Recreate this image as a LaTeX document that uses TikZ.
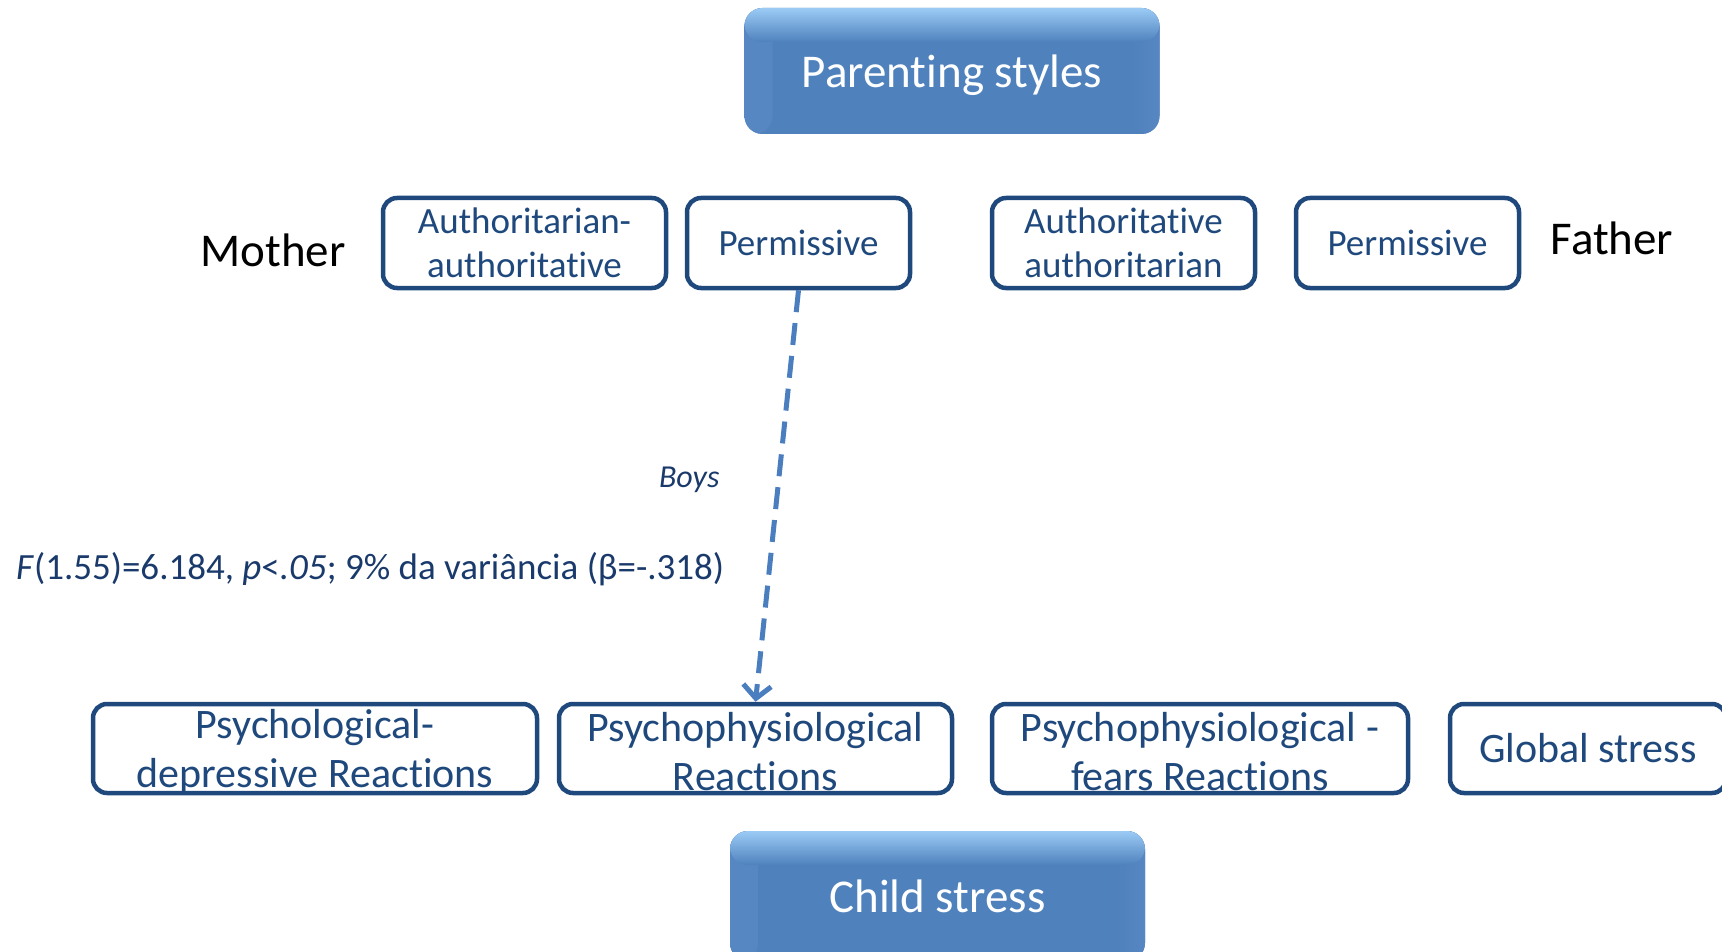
\documentclass[tikz,border=0pt]{standalone}
\usepackage{fontspec}
\setmainfont{Carlito}[Ligatures=NoCommon]
\usetikzlibrary{arrows.meta}

\definecolor{navy}{HTML}{1F497D}
\definecolor{accent}{HTML}{4F81BD}
\definecolor{accentlight}{HTML}{9BCBF5}
\definecolor{accentside}{HTML}{5787C3}
\definecolor{arrowblue}{HTML}{4A7EBF}
\definecolor{labelnavy}{HTML}{1A3A6B}

\begin{document}
\begin{tikzpicture}[x=1pt,y=-1pt,
  outline/.style={draw=navy, line width=4.5pt, rounded corners=14pt,
    fill=white, inner sep=0pt, minimum height=90pt},
  boxtext/.style={text=navy, align=center, inner sep=0pt,
    font=\fontsize{37}{44}\selectfont},
  bigtext/.style={text=navy, align=center, inner sep=0pt,
    font=\fontsize{42}{49}\selectfont},
  button/.style={fill=accent, rounded corners=18pt, inner sep=0pt,
    path picture={
      \shade[left color=accentside, right color=accent]
        (path picture bounding box.north west) rectangle
        ([xshift=28pt]path picture bounding box.south west);
      \shade[right color=accentside, left color=accent]
        (path picture bounding box.north east) rectangle
        ([xshift=-28pt]path picture bounding box.south east);
      \shade[top color=accentlight, bottom color=accent]
        (path picture bounding box.north west) rectangle
        ([yshift=-34pt]path picture bounding box.north east);
    }},
  buttontext/.style={text=white, inner sep=0pt,
    font=\fontsize{47}{54}\selectfont},
  side/.style={font=\fontsize{47}{52}\selectfont, text=black},
  stat/.style={text=labelnavy, font=\fontsize{37}{44}\selectfont},
  link/.style={draw=arrowblue, line width=5pt, dash pattern=on 22pt off 11pt,
    -{Straight Barb[length=13pt,width=28pt]}}
]
\useasboundingbox (0,0) rectangle (1722,952);

% top heading button
\node[button, minimum width=415pt, minimum height=126pt] (ps) at (952,71) {};
\node[buttontext, yshift=-4pt] (pst) at (ps) {Parenting styles};

% mother and father styles
\node[side] (mother) at (273,250) {Mother};
\node[outline, minimum width=283pt] (a1) at (524.5,243) {};
\node[boxtext] (a1t) at (a1) {Authoritarian-\\authoritative};
\node[outline, minimum width=223pt] (p1) at (798.5,243) {};
\node[boxtext] (p1t) at (p1) {Permissive};
\node[outline, minimum width=263pt] (a2) at (1123.5,243) {};
\node[boxtext] (a2t) at (a2) {Authoritative\\authoritarian};
\node[outline, minimum width=223pt] (p2) at (1407.5,243) {};
\node[boxtext] (p2t) at (p2) {Permissive};
\node[side] (father) at (1612,238) {Father};

% stress reactions
\node[outline, minimum width=444pt, minimum height=89pt] (b1) at (315,748.5) {};
\node[bigtext, yshift=-3pt] (b1t) at (b1) {Psychological-\\depressive Reactions};
\node[outline, minimum width=393pt, minimum height=89pt] (b2) at (755.5,748.5) {};
\node[bigtext, yshift=-3pt] (b2t) at (b2) {Psychophysiological\\Reactions};
\node[outline, minimum width=416pt, minimum height=89pt] (b3) at (1200,748.5) {};
\node[bigtext, yshift=-3pt] (b3t) at (b3) {Psychophysiological -\\fears Reactions};
\node[outline, minimum width=276pt, minimum height=89pt] (b4) at (1588,748.5) {};
\node[bigtext] (b4t) at (b4) {Global stress};

% bottom heading button
\node[button, minimum width=415pt, minimum height=130pt] (cs) at (937.5,896) {};
\node[buttontext] (cst) at (cs) {Child stress};

% effect of maternal permissiveness
\draw[link] (p1.south) -- (b2.north);
\node[stat, font=\itshape\fontsize{32}{36}\selectfont, anchor=east] (boys)
  at (723,480) {Boys};
\node[stat, anchor=west, inner sep=0pt] (result) at (16,569)
  {\textit{F}(1.55)=6.184, \textit{p}<\textit{.05}; 9\% da variância (β=-.318)};
\end{tikzpicture}
\end{document}
